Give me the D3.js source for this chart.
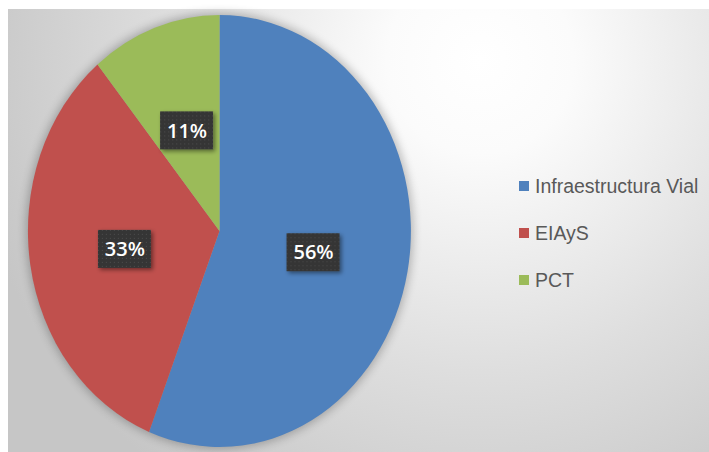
<!DOCTYPE html>
<html>
<head>
<meta charset="utf-8">
<script src="https://cdn.jsdelivr.net/npm/d3@7"></script>
<style>
  body { margin: 0; background: #fff; }
  svg { display: block; }
</style>
</head>
<body>
<div id="chart"></div>
<script>
// data
var categories = ["Infraestructura Vial", "EIAyS", "PCT"]
var values = [56, 33, 11]
var labels = ["56%", "33%", "11%"]
var colors = ["#4f81bd", "#c0504d", "#9bbb59"]

var width = 709,
  height = 452

var svg = d3.select("#chart")
  .append("svg")
  .attr("width", width)
  .attr("height", height)

var defs = svg.append("defs")

var bg = defs.append("radialGradient")
  .attr("id", "bg")
  .attr("gradientUnits", "userSpaceOnUse")
  .attr("cx", 480).attr("cy", 60).attr("r", 520)
bg.append("stop").attr("offset", "0%").attr("stop-color", "#ffffff")
bg.append("stop").attr("offset", "18%").attr("stop-color", "#fbfbfb")
bg.append("stop").attr("offset", "60%").attr("stop-color", "#dedede")
bg.append("stop").attr("offset", "100%").attr("stop-color", "#c6c6c6")

var glow = defs.append("filter").attr("id", "glow")
  .attr("x", "-20%").attr("y", "-20%").attr("width", "140%").attr("height", "140%")
glow.append("feGaussianBlur").attr("stdDeviation", 5)

var shadow = defs.append("filter").attr("id", "shadow")
  .attr("x", "-30%").attr("y", "-30%").attr("width", "160%").attr("height", "160%")
shadow.append("feDropShadow")
  .attr("dx", 2).attr("dy", 2).attr("stdDeviation", 2)
  .attr("flood-color", "#000").attr("flood-opacity", 0.45)

var dots = defs.append("pattern")
  .attr("id", "dots")
  .attr("patternUnits", "userSpaceOnUse")
  .attr("width", 4).attr("height", 4)
dots.append("rect").attr("width", 4).attr("height", 4).attr("fill", "#363636")
dots.append("rect").attr("x", 1).attr("y", 1).attr("width", 1).attr("height", 1).attr("fill", "#4a4a4a")

// plot background
svg.append("rect")
  .attr("x", 8).attr("y", 9)
  .attr("width", width - 8).attr("height", height - 9)
  .attr("fill", "url(#bg)")

// pie, stretched to an ellipse like the original
var cx = 219.5,
  cy = 231,
  rx = 191.5,
  ry = 216

var pie = d3.pie().sort(null).value(function(d) {
  return d
})
var arcs = pie(values)

var arc = d3.arc().innerRadius(0).outerRadius(1)

var g = svg.append("g")
  .attr("transform", "translate(" + cx + "," + cy + ")")

g.append("ellipse")
  .attr("rx", rx + 2).attr("ry", ry + 2)
  .attr("fill", "#000")
  .attr("opacity", 0.25)
  .attr("filter", "url(#glow)")

g.append("g")
  .attr("transform", "scale(" + rx + "," + ry + ")")
  .selectAll("path")
  .data(arcs)
  .enter()
  .append("path")
  .attr("d", arc)
  .attr("fill", function(d, i) {
    return colors[i]
  })

// data labels
var lab = g.selectAll(".lab")
  .data(arcs)
  .enter()
  .append("g")
  .attr("class", "lab")
  .attr("transform", function(d) {
    var c = arc.centroid(d)
    return "translate(" + (c[0] * rx) + "," + (c[1] * ry + 1) + ")"
  })

lab.append("rect")
  .attr("x", -27).attr("y", -19)
  .attr("width", 53).attr("height", 38)
  .attr("fill", "url(#dots)")
  .attr("filter", "url(#shadow)")

lab.append("text")
  .attr("text-anchor", "middle")
  .attr("dy", "0.36em")
  .attr("fill", "#fff")
  .style("font-family", "'Open Sans', sans-serif")
  .style("font-weight", "600")
  .style("font-size", "20px")
  .text(function(d, i) {
    return labels[i]
  })

// legend
var legendY = d3.scalePoint()
  .domain(categories)
  .range([186, 280])

var leg = svg.selectAll(".leg")
  .data(categories)
  .enter()
  .append("g")
  .attr("class", "leg")
  .attr("transform", function(d) {
    return "translate(519," + legendY(d) + ")"
  })

leg.append("rect")
  .attr("x", 0).attr("y", -5)
  .attr("width", 10).attr("height", 10)
  .attr("fill", function(d, i) {
    return colors[i]
  })

leg.append("text")
  .attr("x", 16)
  .attr("dy", "0.35em")
  .attr("fill", "#595959")
  .style("font-family", "'Liberation Sans Narrow', 'Arial Narrow', sans-serif")
  .style("font-size", "19.5px")
  .text(function(d) {
    return d
  })
</script>
</body>
</html>
